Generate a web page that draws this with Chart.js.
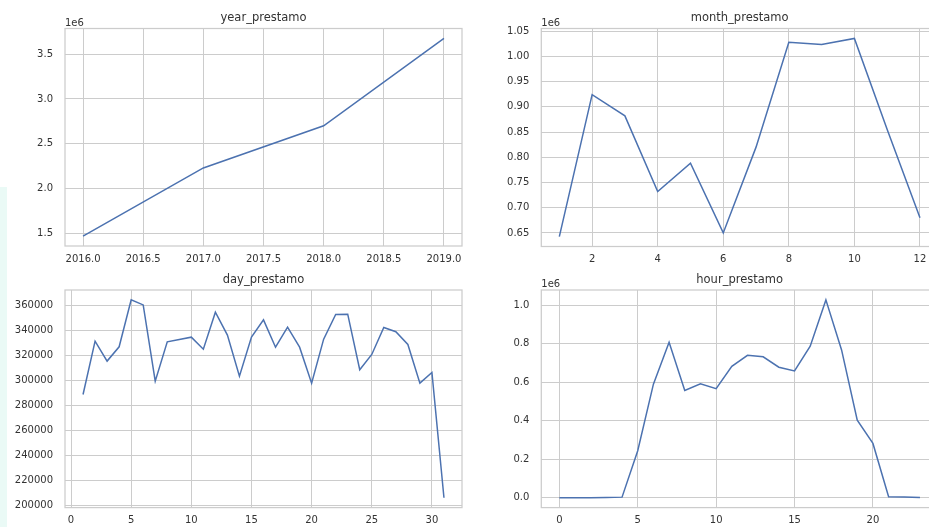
<!DOCTYPE html>
<html>
<head>
<meta charset="utf-8">
<title>prestamo totals</title>
<script src="https://cdn.jsdelivr.net/npm/chart.js@4/dist/chart.umd.min.js"></script>
<style>
  html, body { margin: 0; padding: 0; background: #ffffff; overflow: hidden; width: 929px; height: 527px; }
  #strip { position: absolute; left: 0; top: 187px; width: 7px; height: 340px; background: #eafaf6; }
  canvas { position: absolute; }
</style>
</head>
<body>
<div id="strip"></div>
<canvas id="cYear"  width="470" height="265" style="left:0;top:0"></canvas>
<canvas id="cMonth" width="480" height="265" style="left:465px;top:0"></canvas>
<canvas id="cDay"   width="470" height="262" style="left:0;top:265px"></canvas>
<canvas id="cHour"  width="480" height="262" style="left:465px;top:265px"></canvas>
<script>
// Loan totals grouped by year, month, day of month and hour of day
const years = [2016, 2017, 2018, 2019];
const yearTotals = [1470000, 2230000, 2700000, 3675000];

const months = [1, 2, 3, 4, 5, 6, 7, 8, 9, 10, 11, 12];
const monthTotals = [642700, 924000, 882000, 732000, 788000, 650000, 820000, 1028000, 1023500, 1035500, 855000, 680000];

const days = [1, 2, 3, 4, 5, 6, 7, 8, 9, 10, 11, 12, 13, 14, 15, 16, 17, 18, 19, 20, 21, 22, 23, 24, 25, 26, 27, 28, 29, 30, 31];
const dayTotals = [288800, 331300, 315400, 326800, 364200, 360200, 299400, 330800, 332600, 334500, 324900, 354400, 336100, 303400, 334500, 348300, 326500, 342500, 326500, 297800, 332900, 352600, 352800, 308500, 320700, 342200, 338800, 328700, 297800, 306300, 206500];

const hours = [0, 1, 2, 3, 4, 5, 6, 7, 8, 9, 10, 11, 12, 13, 14, 15, 16, 17, 18, 19, 20, 21, 22, 23];
const hourTotals = [0, 0, 0, 1000, 3000, 244000, 590000, 808000, 557000, 592000, 567000, 683000, 740000, 732000, 678000, 659000, 787000, 1028000, 768000, 403000, 282000, 5000, 4000, 1000];

// Tick positions
const yearXTicks = [2016, 2016.5, 2017, 2017.5, 2018, 2018.5, 2019];
const yearYTicks = [1500000, 2000000, 2500000, 3000000, 3500000];
const monthXTicks = [2, 4, 6, 8, 10, 12];
const monthYTicks = [650000, 700000, 750000, 800000, 850000, 900000, 950000, 1000000, 1050000];
const dayXTicks = [0, 5, 10, 15, 20, 25, 30];
const dayYTicks = [200000, 220000, 240000, 260000, 280000, 300000, 320000, 340000, 360000];
const hourXTicks = [0, 5, 10, 15, 20];
const hourYTicks = [0, 200000, 400000, 600000, 800000, 1000000];

const FONT = '"DejaVu Sans", "Liberation Sans", sans-serif';
const TEXT = '#333333';
const GRID = '#cccccc';
const LINE = '#4c72b0';

// 5% margin on each side of the data range
function padded(arr) {
  const lo = Math.min(...arr), hi = Math.max(...arr), m = (hi - lo) * 0.05;
  return [lo - m, hi + m];
}

// Full frame around the plot area plus the axis multiplier text
const framePlugin = {
  id: 'frame',
  beforeDatasetsDraw(chart, args, opts) {
    const { ctx, chartArea: a } = chart;
    ctx.save();
    ctx.strokeStyle = GRID;
    ctx.lineWidth = 1.25;
    ctx.strokeRect(a.left, a.top, a.right - a.left, a.bottom - a.top);
    if (opts.offsetText) {
      ctx.fillStyle = TEXT;
      ctx.font = '10px ' + FONT;
      ctx.textAlign = 'left';
      ctx.textBaseline = 'alphabetic';
      ctx.fillText(opts.offsetText, a.left, a.top - 3);
    }
    ctx.restore();
  }
};

function panel(id, cfg) {
  const canvas = document.getElementById(id);
  const W = canvas.width, H = canvas.height;
  const [xMin, xMax] = padded(cfg.x);
  const [yMin, yMax] = padded(cfg.y);
  return new Chart(canvas, {
    type: 'line',
    data: {
      datasets: [{
        data: cfg.x.map((v, i) => ({ x: v, y: cfg.y[i] })),
        borderColor: LINE,
        borderWidth: 1.5,
        pointRadius: 0,
        tension: 0,
        fill: false
      }]
    },
    options: {
      responsive: false,
      animation: false,
      events: [],
      layout: { padding: { left: 0, top: 0, right: W - cfg.right, bottom: 0 } },
      plugins: {
        legend: { display: false },
        tooltip: { enabled: false },
        title: {
          display: true,
          text: cfg.title,
          fullSize: false,
          color: TEXT,
          font: { family: FONT, size: 11.5, weight: 'normal', lineHeight: 1.2 },
          padding: { top: cfg.top - 10.2 - 6.9, bottom: 10.2 - 6.9 }
        },
        frame: { offsetText: cfg.offset || '' }
      },
      scales: {
        x: {
          type: 'linear',
          min: xMin,
          max: xMax,
          afterBuildTicks: s => { s.ticks = cfg.xTicks.map(v => ({ value: v })); },
          afterFit: s => { s.height = H - cfg.bottom; },
          ticks: {
            autoSkip: false, maxRotation: 0, padding: 7,
            color: TEXT, font: { family: FONT, size: 10 },
            callback: cfg.xFmt
          },
          grid: { color: GRID, lineWidth: 1, drawTicks: false },
          border: { display: false }
        },
        y: {
          type: 'linear',
          min: yMin,
          max: yMax,
          afterBuildTicks: s => { s.ticks = cfg.yTicks.map(v => ({ value: v })); },
          afterFit: s => { s.width = cfg.left; },
          ticks: {
            autoSkip: false, padding: 12,
            color: TEXT, font: { family: FONT, size: 10 },
            callback: cfg.yFmt
          },
          grid: { color: GRID, lineWidth: 1, drawTicks: false },
          border: { display: false }
        }
      }
    },
    plugins: [framePlugin]
  });
}

panel('cYear', {
  title: 'year_prestamo', x: years, y: yearTotals,
  xTicks: yearXTicks, yTicks: yearYTicks,
  xFmt: v => v.toFixed(1), yFmt: v => (v / 1e6).toFixed(1),
  offset: '1e6', left: 65, top: 28.5, right: 462, bottom: 246
});

panel('cMonth', {
  title: 'month_prestamo', x: months, y: monthTotals,
  xTicks: monthXTicks, yTicks: monthYTicks,
  xFmt: v => String(v), yFmt: v => (v / 1e6).toFixed(2),
  offset: '1e6', left: 76.3, top: 28.5, right: 473, bottom: 246.5
});

panel('cDay', {
  title: 'day_prestamo', x: days, y: dayTotals,
  xTicks: dayXTicks, yTicks: dayYTicks,
  xFmt: v => String(v), yFmt: v => String(Math.round(v)),
  left: 65, top: 25, right: 462, bottom: 242.6
});

panel('cHour', {
  title: 'hour_prestamo', x: hours, y: hourTotals,
  xTicks: hourXTicks, yTicks: hourYTicks,
  xFmt: v => String(v), yFmt: v => (v / 1e6).toFixed(1),
  offset: '1e6', left: 76.3, top: 25, right: 473, bottom: 242.6
});
</script>
</body>
</html>
